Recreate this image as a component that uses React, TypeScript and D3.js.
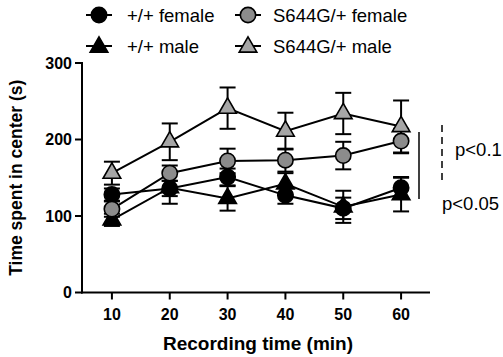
import React from 'react'
import { scaleLinear, line, symbol, symbolTriangle, symbolCircle } from 'd3'

const times = [10, 20, 30, 40, 50, 60]
const xTicks = [10, 20, 30, 40, 50, 60]
const yTicks = [0, 100, 200, 300]

const wtFemale = [128, 136, 151, 127, 110, 137]
const wtFemaleErr = [8, 10, 11, 11, 14, 14]
const wtMale = [95, 137, 123, 142, 112, 128]
const wtMaleErr = [8, 21, 16, 14, 21, 22]
const mutFemale = [109, 156, 172, 173, 179, 198]
const mutFemaleErr = [10, 10, 16, 15, 18, 16]
const mutMale = [156, 197, 241, 211, 234, 217]
const mutMaleErr = [15, 24, 27, 24, 27, 34]

const series = [
  { name: '+/+ female', values: wtFemale, errs: wtFemaleErr, shape: 'circle', fill: '#000' },
  { name: '+/+ male', values: wtMale, errs: wtMaleErr, shape: 'triangle', fill: '#000' },
  { name: 'S644G/+ female', values: mutFemale, errs: mutFemaleErr, shape: 'circle', fill: '#8c8c8c' },
  { name: 'S644G/+ male', values: mutMale, errs: mutMaleErr, shape: 'triangle', fill: '#a6a6a6' },
]

const legendPos = [
  { x: 99, y: 15, tx: 127 },
  { x: 99, y: 46, tx: 127 },
  { x: 248, y: 15, tx: 273 },
  { x: 248, y: 46, tx: 273 },
]

const font = 'Arial, "Liberation Sans", Helvetica, sans-serif'

const x = scaleLinear().domain([5, 65]).range([83, 430])
const y = scaleLinear().domain([0, 300]).range([292.5, 63])

const circlePath = symbol().type(symbolCircle).size(185)()
const trianglePath = symbol().type(symbolTriangle).size(135)()

const Marker = ({ shape, fill, cx, cy }) => (
  <path
    d={shape === 'circle' ? circlePath : trianglePath}
    transform={`translate(${cx},${cy})`}
    fill={fill}
    stroke="#000"
    strokeWidth={1.6}
  />
)

export default function App() {
  const path = line<number>()
    .x((d, i) => x(times[i]))
    .y(d => y(d))

  return (
    <svg width={503} height={357} style={{ display: 'block', position: 'absolute', left: 0, top: 0 }}>
      <rect width={503} height={357} fill="#fff" />

      {/* legend */}
      {series.map((s, i) => {
        const p = legendPos[i]
        return (
          <g key={s.name}>
            <line x1={p.x - 13} x2={p.x + 13} y1={p.y} y2={p.y} stroke="#000" strokeWidth={2} />
            <Marker shape={s.shape} fill={s.fill} cx={p.x} cy={p.y + (s.shape === 'triangle' ? 1 : 0)} />
            <text x={p.tx} y={p.y + 7} fontFamily={font} fontSize={18.5} fill="#000">
              {s.name}
            </text>
          </g>
        )
      })}

      {/* axes */}
      <line x1={82} x2={82} y1={62} y2={293.5} stroke="#000" strokeWidth={2} />
      <line x1={81} x2={430} y1={y(0)} y2={y(0)} stroke="#000" strokeWidth={2} />
      {yTicks.map(t => (
        <g key={t}>
          <line x1={75} x2={82} y1={y(t)} y2={y(t)} stroke="#000" strokeWidth={2} />
          <text x={72} y={y(t) + 5.5} textAnchor="end" fontFamily={font} fontWeight="bold" fontSize={16}>
            {t}
          </text>
        </g>
      ))}
      {xTicks.map(t => (
        <g key={t}>
          <line x1={x(t)} x2={x(t)} y1={y(0)} y2={y(0) + 7} stroke="#000" strokeWidth={2} />
          <text x={x(t)} y={320} textAnchor="middle" fontFamily={font} fontWeight="bold" fontSize={16}>
            {t}
          </text>
        </g>
      ))}
      <text x={258} y={350} textAnchor="middle" fontFamily={font} fontWeight="bold" fontSize={19}>
        Recording time (min)
      </text>
      <text
        transform={`translate(22,${(y(0) + y(300)) / 2}) rotate(-90)`}
        textAnchor="middle"
        fontFamily={font}
        fontWeight="bold"
        fontSize={17.5}
      >
        Time spent in center (s)
      </text>

      {/* lines */}
      {series.map(s => (
        <path key={s.name} d={path(s.values) || ''} fill="none" stroke="#000" strokeWidth={2} />
      ))}

      {/* error bars */}
      {series.map(s => (
        <g key={s.name}>
          {s.values.map((v, i) => {
            const cx = x(times[i])
            const top = y(v + s.errs[i])
            const bot = y(v - s.errs[i])
            return (
              <g key={i} stroke="#000" strokeWidth={2}>
                <line x1={cx} x2={cx} y1={top} y2={bot} />
                <line x1={cx - 8} x2={cx + 8} y1={top} y2={top} />
                <line x1={cx - 8} x2={cx + 8} y1={bot} y2={bot} />
              </g>
            )
          })}
        </g>
      ))}

      {/* markers */}
      {series.map(s => (
        <g key={s.name}>
          {s.values.map((v, i) => (
            <Marker key={i} shape={s.shape} fill={s.fill} cx={x(times[i])} cy={y(v)} />
          ))}
        </g>
      ))}

      {/* significance annotations */}
      <line x1={419} x2={419} y1={132} y2={199} stroke="#000" strokeWidth={1.5} />
      <line x1={442} x2={442} y1={125} y2={183} stroke="#000" strokeWidth={1.5} strokeDasharray="7,5" />
      <text x={455} y={156} fontFamily={font} fontSize={18.5}>p&lt;0.1</text>
      <text x={442} y={210} fontFamily={font} fontSize={18.5}>p&lt;0.05</text>
    </svg>
  )
}
